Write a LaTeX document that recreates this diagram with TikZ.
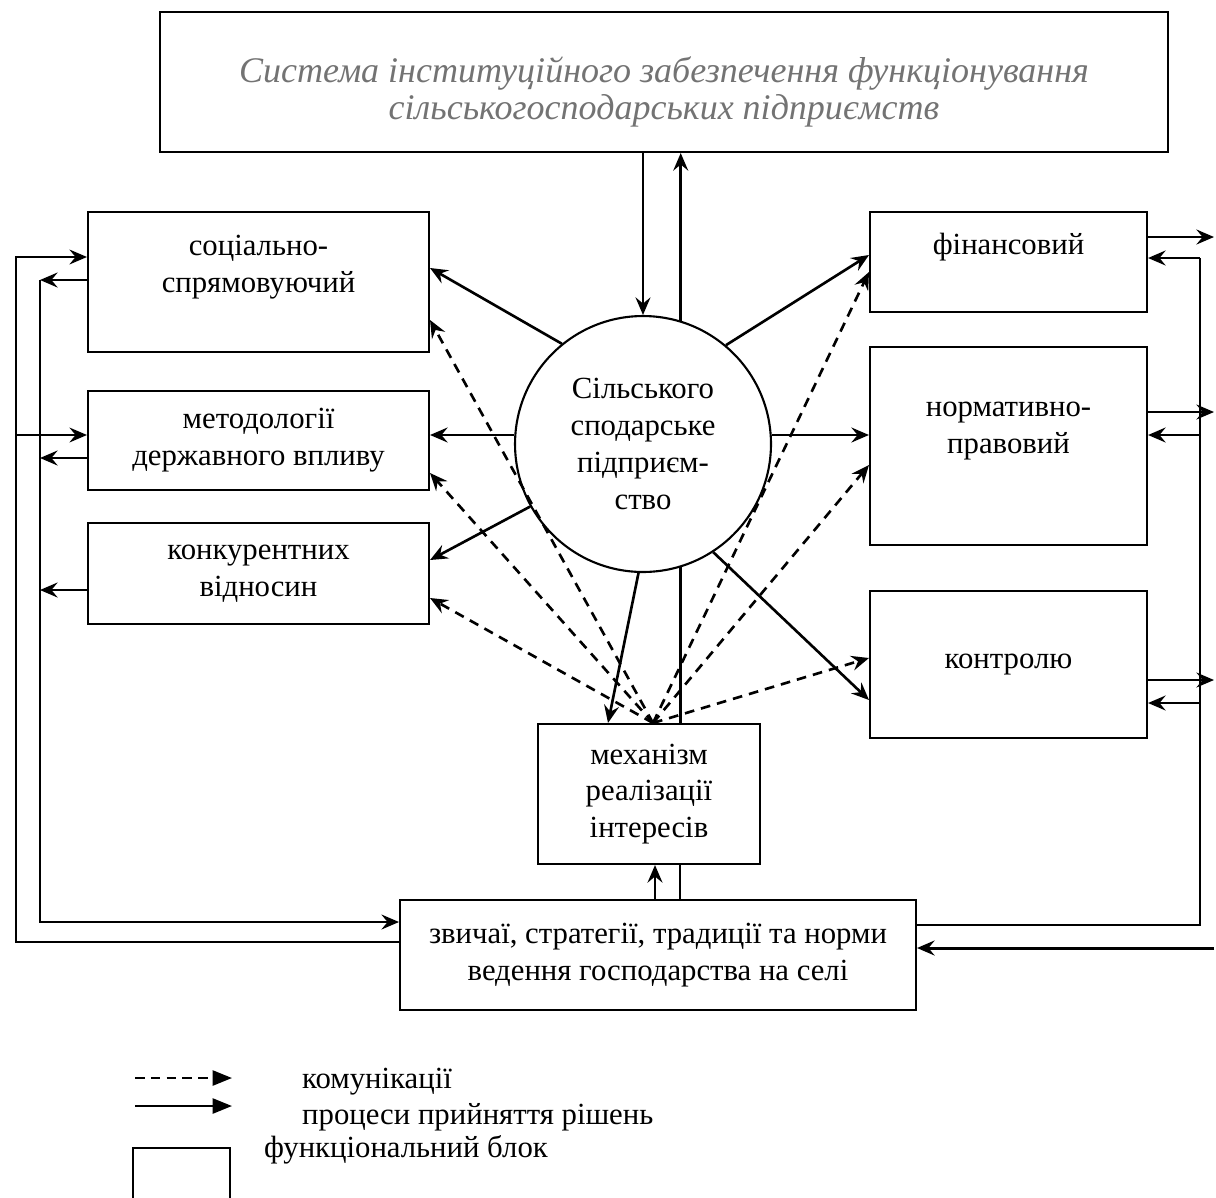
\documentclass[tikz,border=0pt]{standalone}
\usepackage{fontspec}
\setmainfont{Liberation Serif}
\usetikzlibrary{arrows.meta,calc}

\begin{document}
\begin{tikzpicture}[x=0.02cm,y=-0.02cm,
        font=\fontsize{17.5}{21}\selectfont,
        block/.style = {draw, line width=1.2pt, align=center, inner sep=0pt},
        firmcircle/.style = {draw, circle, line width=1.2pt, align=center,
        minimum size=5.12cm, inner sep=0pt},
        flow/.style = {line width=1.5pt, -{Stealth[length=10pt,width=8.5pt,inset=3.5pt]}},
        comm/.style = {flow, dash pattern=on 5.5pt off 4pt},
        link/.style = {line width=1.2pt},
        keyarrow/.style = {line width=1.5pt, -{Triangle[length=11pt,width=8.5pt]}}]

        \useasboundingbox (0,0) rectangle (1216,1197);
        \clip (0,0) rectangle (1216,1197);

        % Institutional system
        \node [block, minimum width=20.16cm, minimum height=2.8cm] (sys) at (664,82) {};
        \node [text=black!55, align=center, font=\fontsize{20.5}{21}\selectfont\itshape]
            (systext) at ($(sys)+(0,10)$)
            {Система інституційного забезпечення функціонування\\сільськогосподарських підприємств};

        % Left blocks
        \node [block, minimum width=6.82cm, minimum height=2.8cm] (soc) at (258.5,282)
            {соціально-\\спрямовуючий\\\mbox{}};
        \node [block, minimum width=6.82cm, minimum height=1.98cm] (meth) at (258.5,440.5)
            {методології\\державного впливу};
        \node [block, minimum width=6.82cm, minimum height=2.02cm] (comp) at (258.5,573.5)
            {конкурентних\\відносин};

        % Right blocks
        \node [block, minimum width=5.54cm, minimum height=2cm] (fin) at (1008.5,262)
            {фінансовий\\\mbox{}};
        \node [block, minimum width=5.54cm, minimum height=3.96cm] (norm) at (1008.5,446)
            {нормативно-\\правовий\\\mbox{}};
        \node [block, minimum width=5.54cm, minimum height=2.94cm] (ctrl) at (1008.5,664.5)
            {контролю};

        % Enterprise
        \node [firmcircle] (firm) at (643,444) {Сільського\\сподарське\\підприєм-\\ство};

        % Mechanism and customs
        \node [block, minimum width=4.44cm, minimum height=2.8cm] (mech) at (649,794)
            {механізм\\реалізації\\інтересів};
        \node [block, minimum width=10.32cm, minimum height=2.2cm] (norms) at (658,955)
            {звичаї, стратегії, традиції та норми\\ведення господарства на селі};

        % System <-> enterprise
        \draw [flow] (firm.north |- sys.south) -- (firm.north);
        \draw [flow] (firm.73) -- (firm.73 |- sys.south);

        % Decisions from the enterprise
        \draw [flow] (firm.129) -- ($(soc.east)+(0,-14)$);
        \draw [flow] (firm.176) -- (firm.176 -| meth.east);
        \draw [flow] (firm.209) -- ($(comp.east)+(0,-13.5)$);
        \draw [flow] (firm.50) -- ($(fin.west)+(0,-7)$);
        \draw [flow] (firm.4) -- (firm.4 -| norm.west);
        \draw [flow] (firm.-57) -- ($(ctrl.west)+(0,35.5)$);
        \draw [flow] (firm.-92) -- ($(mech.north)+(-41,0)$);
        \draw [link, line width=1.5pt] (firm.-73) -- (firm.-73 |- mech.north);

        % Communications
        \coordinate (hub) at ($(mech.north)+(4,0)$);
        \foreach \blk/\dy in {soc.east/38, meth.east/32.5, comp.east/24.5,
                fin.west/10, norm.west/19, ctrl.west/-6.5}
            \draw [comm] (hub) -- ($(\blk)+(0,\dy)$);

        % Mechanism <-> customs
        \coordinate (mup) at ($(mech.south)+(6,0)$);
        \coordinate (mdown) at ($(mech.south)+(31,0)$);
        \draw [flow] (mup |- norms.north) -- (mup);
        \draw [link, line width=1.5pt] (mdown) -- (mdown |- norms.north);

        % Left feedback lines
        \coordinate (outer) at (16,942);
        \coordinate (inner) at (40,922);
        \coordinate (socin) at ($(soc.west)+(0,-25)$);
        \coordinate (methin) at ($(meth.west)+(0,-5.5)$);
        \coordinate (socout) at ($(soc.west)+(0,-2)$);
        \coordinate (methout) at ($(meth.west)+(0,17.5)$);
        \coordinate (compout) at ($(comp.west)+(0,16.5)$);
        \draw [flow, line width=1.1pt] (outer -| norms.west) -- (outer) |- (socin);
        \draw [flow, line width=1.1pt] (outer |- methin) -- (methin);
        \draw [flow] (socout) -- (socout -| inner);
        \draw [flow] (methout) -- (methout -| inner);
        \draw [flow] (compout) -- (compout -| inner);
        \draw [flow, line width=1.3pt] (socout -| inner) -- (inner) -- (inner -| norms.west);

        % Right feedback lines
        \coordinate (right) at (1200,925);
        \coordinate (edge) at (1214,948);
        \coordinate (finin) at ($(fin.east)+(0,-4)$);
        \coordinate (normin) at ($(norm.east)+(0,-11)$);
        \coordinate (ctrlin) at ($(ctrl.east)+(0,38.5)$);
        \coordinate (finout) at ($(fin.east)+(0,-25)$);
        \coordinate (normout) at ($(norm.east)+(0,-34)$);
        \coordinate (ctrlout) at ($(ctrl.east)+(0,15.5)$);
        \draw [link, line width=1.1pt] (right -| norms.east) -- (right) -- (finin -| right);
        \draw [flow] (finin -| right) -- (finin);
        \draw [flow] (normin -| right) -- (normin);
        \draw [flow] (ctrlin -| right) -- (ctrlin);
        \draw [flow] (finout) -- (finout -| edge);
        \draw [flow] (normout) -- (normout -| edge);
        \draw [flow] (ctrlout) -- (ctrlout -| edge);
        \draw [flow, line width=1.7pt] (edge) -- (edge -| norms.east);

        % Legend
        \coordinate (k1) at (135,1078);
        \coordinate (k2) at (135,1106);
        \draw [keyarrow, dash pattern=on 5.5pt off 3.5pt] (k1) -- +(97,0);
        \draw [keyarrow] (k2) -- +(97,0);
        \node [anchor=west] (kcomm) at (296,1082) {комунікації};
        \node [anchor=west] (kdec) at (296,1117) {процеси прийняття рішень};
        \node [block, minimum width=1.94cm, minimum height=1.4cm] (kbox) at (181.5,1183) {};
        \node [anchor=west] (kblk) at (258,1150) {функціональний блок};

    \end{tikzpicture}
\end{document}
